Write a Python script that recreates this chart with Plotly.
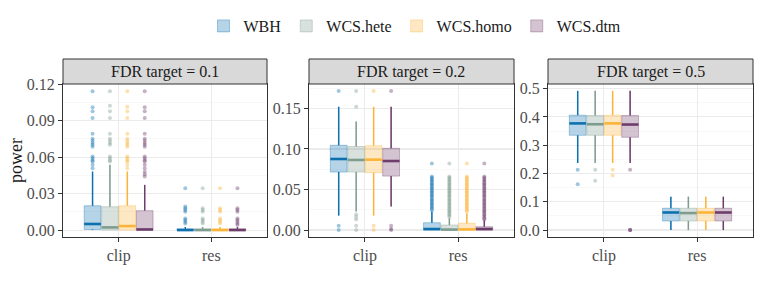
import plotly.graph_objects as go

# ---------------- data ----------------
methods = ["WBH", "WCS.hete", "WCS.homo", "WCS.dtm"]
colors = ["#0E70AE", "#7F9D8F", "#FBB43A", "#6F3D6B"]
categories = ["clip", "res"]
targets = ["FDR target = 0.1", "FDR target = 0.2", "FDR target = 0.5"]

# box statistics: [panel][category][method]
q1 = [
    [[0.0005, 0.0, 0.0, 0.0], [0.0, 0.0, 0.0, 0.0]],
    [[0.0715, 0.0715, 0.0707, 0.0665], [0.0, 0.0, 0.0, 0.0]],
    [[0.335, 0.335, 0.335, 0.328], [0.032, 0.032, 0.032, 0.032]],
]
median = [
    [[0.0050, 0.0022, 0.0033, 0.0005], [0.0, 0.0, 0.0, 0.0]],
    [[0.0876, 0.0864, 0.0868, 0.0851], [0.0012, 0.0005, 0.0008, 0.0012]],
    [[0.377, 0.374, 0.377, 0.373], [0.062, 0.060, 0.062, 0.062]],
]
q3 = [
    [[0.0200, 0.0192, 0.0200, 0.0160], [0.0010, 0.0010, 0.0010, 0.0010]],
    [[0.1045, 0.1030, 0.1040, 0.1008], [0.0090, 0.0062, 0.0083, 0.0041]],
    [[0.406, 0.405, 0.406, 0.405], [0.077, 0.077, 0.077, 0.077]],
]
lowerfence = [
    [[0.0, 0.0, 0.0, 0.0], [0.0, 0.0, 0.0, 0.0]],
    [[0.0178, 0.0227, 0.0178, 0.0290], [0.0, 0.0, 0.0, 0.0]],
    [[0.237, 0.237, 0.237, 0.237], [0.0, 0.0, 0.0, 0.0]],
]
upperfence = [
    [[0.0482, 0.0537, 0.0482, 0.0372], [0.0025, 0.0025, 0.0025, 0.0025]],
    [[0.152, 0.134, 0.152, 0.152], [0.0227, 0.0145, 0.0207, 0.0120]],
    [[0.492, 0.492, 0.492, 0.492], [0.118, 0.118, 0.118, 0.118]],
]

# outliers: [panel][category][method]
outliers = [
    [
        [
            [0.1142, 0.1010, 0.0977, 0.0922, 0.0793, 0.0751, 0.0735, 0.0716, 0.0702, 0.0685,
             0.0606, 0.0592, 0.0575, 0.0564, 0.0537, 0.0509],
            [0.1142, 0.1024, 0.0977, 0.0922, 0.0793, 0.0751, 0.0735, 0.0716, 0.0702,
             0.0606, 0.0592, 0.0575, 0.0564],
            [0.1142, 0.1015, 0.0977, 0.0922, 0.0793, 0.0751, 0.0735, 0.0716, 0.0702, 0.0685,
             0.0606, 0.0592, 0.0575, 0.0564, 0.0537, 0.0509],
            [0.1142, 0.1010, 0.0977, 0.0922, 0.0793, 0.0751, 0.0735, 0.0716, 0.0702, 0.0685,
             0.0606, 0.0592, 0.0575, 0.0564, 0.0537, 0.0509, 0.0480, 0.0460, 0.0440],
        ],
        [
            [0.0344, 0.0193, 0.0179, 0.0165, 0.0151, 0.0096, 0.0083, 0.0069, 0.0055],
            [0.0344, 0.0179, 0.0165, 0.0151, 0.0096, 0.0083, 0.0069, 0.0055],
            [0.0344, 0.0179, 0.0165, 0.0151, 0.0096, 0.0083, 0.0069, 0.0055],
            [0.0344, 0.0179, 0.0165, 0.0151, 0.0096, 0.0083, 0.0069, 0.0055, 0.0041],
        ],
    ],
    [
        [
            [0.1715, 0.0054, 0.0],
            [0.1715, 0.152, 0.0190, 0.0160, 0.0130, 0.0054, 0.0],
            [0.1715, 0.0054, 0.0],
            [0.1715, 0.0054, 0.0012, 0.0],
        ],
        [
            [0.0822, 0.0661, 0.0645, 0.0628, 0.0612, 0.0595, 0.0578, 0.0562, 0.0545, 0.0528,
             0.0512, 0.0495, 0.0478, 0.0462, 0.0445, 0.0428, 0.0412, 0.0395, 0.0378, 0.0362,
             0.0345, 0.0328, 0.0312, 0.0295, 0.0278, 0.0262, 0.0245],
            [0.0822, 0.0661, 0.0645, 0.0628, 0.0612, 0.0595, 0.0578, 0.0562, 0.0545, 0.0528,
             0.0512, 0.0495, 0.0478, 0.0462, 0.0445, 0.0428, 0.0412, 0.0395, 0.0378, 0.0362,
             0.0345, 0.0328, 0.0312, 0.0295, 0.0278, 0.0262, 0.0245, 0.0228, 0.0212, 0.0195,
             0.0178, 0.0162],
            [0.0822, 0.0661, 0.0645, 0.0628, 0.0612, 0.0595, 0.0578, 0.0562, 0.0545, 0.0528,
             0.0512, 0.0495, 0.0478, 0.0462, 0.0445, 0.0428, 0.0412, 0.0395, 0.0378, 0.0362,
             0.0345, 0.0328, 0.0312, 0.0295, 0.0278, 0.0262, 0.0245, 0.0228],
            [0.0822, 0.0661, 0.0645, 0.0628, 0.0612, 0.0595, 0.0578, 0.0562, 0.0545, 0.0528,
             0.0512, 0.0495, 0.0478, 0.0462, 0.0445, 0.0428, 0.0412, 0.0395, 0.0378, 0.0362,
             0.0345, 0.0328, 0.0312, 0.0295, 0.0278, 0.0262, 0.0245, 0.0228, 0.0212, 0.0195,
             0.0178, 0.0162, 0.0145, 0.0130],
        ],
    ],
    [
        [
            [0.213, 0.162],
            [0.213, 0.174],
            [0.213, 0.193],
            [0.213, 0.0, 0.0, 0.0],
        ],
        [[], [], [], []],
    ],
]

yranges = [(-0.0057, 0.1202), (-0.0086, 0.1801), (-0.0246, 0.5163)]
ydticks = [0.03, 0.05, 0.1]
ytickformats = [".2f", ".2f", ".1f"]

# ---------------- layout constants ----------------
W, H = 761, 286
panel_px = [(63, 267), (309, 514), (548, 753)]
top_px, bot_px, strip_top_px = 84, 237, 59
legend_cx, legend_cy = 415, 26
ylab_x, ylab_y = 16, 161
offsets = [-0.28125, -0.09375, 0.09375, 0.28125]
box_w = 0.18
FONT = "Liberation Serif, Times New Roman, serif"


def rgba(hexc, a):
    h = hexc.lstrip("#")
    r, g, b = int(h[0:2], 16), int(h[2:4], 16), int(h[4:6], 16)
    return f"rgba({r},{g},{b},{a})"


fig = go.Figure()

for p in range(3):
    xa = "x" if p == 0 else f"x{p+1}"
    ya = "y" if p == 0 else f"y{p+1}"
    for ci, cat in enumerate(categories):
        for mi, m in enumerate(methods):
            pos = ci + 1 + offsets[mi]
            col = colors[mi]
            fig.add_trace(go.Box(
                x=[pos], q1=[q1[p][ci][mi]], median=[median[p][ci][mi]], q3=[q3[p][ci][mi]],
                lowerfence=[lowerfence[p][ci][mi]], upperfence=[upperfence[p][ci][mi]],
                width=box_w, whiskerwidth=0, boxpoints=False,
                fillcolor=rgba(col, 0.3), line=dict(color=rgba(col, 0.35), width=1),
                name=m, legendgroup=m, showlegend=(p == 0 and ci == 0),
                xaxis=xa, yaxis=ya, hoverinfo="skip",
            ))
            # opaque whiskers
            fig.add_trace(go.Scatter(
                x=[pos, pos, None, pos, pos],
                y=[q3[p][ci][mi], upperfence[p][ci][mi], None, lowerfence[p][ci][mi], q1[p][ci][mi]],
                mode="lines", line=dict(color=col, width=1.5),
                showlegend=False, xaxis=xa, yaxis=ya, hoverinfo="skip",
            ))
            # thick opaque median
            fig.add_trace(go.Scatter(
                x=[pos - box_w / 2, pos + box_w / 2],
                y=[median[p][ci][mi], median[p][ci][mi]],
                mode="lines", line=dict(color=col, width=2.6),
                showlegend=False, xaxis=xa, yaxis=ya, hoverinfo="skip",
            ))
            # outliers
            ol = outliers[p][ci][mi]
            if ol:
                fig.add_trace(go.Scatter(
                    x=[pos] * len(ol), y=ol, mode="markers",
                    marker=dict(color=rgba(col, 0.4), size=4, line=dict(width=0)),
                    showlegend=False, xaxis=xa, yaxis=ya, hoverinfo="skip",
                ))

axis_common = dict(
    showline=True, mirror=True, linecolor="#333333", linewidth=1,
    ticks="outside", ticklen=4, tickcolor="#333333", tickwidth=1,
    tickfont=dict(family=FONT, size=16, color="#4D4D4D"),
    zeroline=False, automargin=False,
)

layout = dict(
    width=W, height=H,
    margin=dict(l=0, r=0, t=0, b=0, pad=0, autoexpand=False),
    paper_bgcolor="white", plot_bgcolor="white",
    font=dict(family=FONT, size=16, color="#1A1A1A"),
    legend=dict(
        orientation="h", x=legend_cx / W, xanchor="center", y=1 - legend_cy / H, yanchor="middle",
        font=dict(family=FONT, size=16, color="#1A1A1A"),
        itemwidth=30, traceorder="normal",
    ),
    shapes=[], annotations=[],
)

for p in range(3):
    xk = "xaxis" if p == 0 else f"xaxis{p+1}"
    yk = "yaxis" if p == 0 else f"yaxis{p+1}"
    yanchor = "x" if p == 0 else f"x{p+1}"
    xanchor = "y" if p == 0 else f"y{p+1}"
    d0, d1 = panel_px[p][0] / W, panel_px[p][1] / W
    layout[xk] = dict(
        domain=[d0, d1], anchor=xanchor, range=[0.4, 2.6],
        tickmode="array", tickvals=[1, 2], ticktext=categories,
        showgrid=True, gridcolor="#EBEBEB", gridwidth=1.1, **axis_common,
    )
    layout[yk] = dict(
        domain=[1 - bot_px / H, 1 - top_px / H], anchor=yanchor, range=list(yranges[p]),
        tickmode="linear", tick0=0, dtick=ydticks[p], tickformat=ytickformats[p],
        showgrid=True, gridcolor="#EBEBEB", gridwidth=1.1,
        minor=dict(dtick=ydticks[p] / 2, tick0=0, showgrid=True, gridcolor="#F3F3F3",
                   gridwidth=0.6, ticks=""),
        **axis_common,
    )
    layout["shapes"].append(dict(
        type="rect", xref="paper", yref="paper",
        x0=d0, x1=d1, y0=1 - top_px / H, y1=1 - strip_top_px / H,
        fillcolor="#D9D9D9", line=dict(color="#333333", width=1), layer="above",
    ))
    layout["annotations"].append(dict(
        text=targets[p], xref="paper", yref="paper",
        x=(d0 + d1) / 2, y=1 - (top_px + strip_top_px) / 2 / H,
        xanchor="center", yanchor="middle", showarrow=False,
        font=dict(family=FONT, size=16, color="#1A1A1A"),
    ))

layout["annotations"].append(dict(
    text="power", xref="paper", yref="paper", x=ylab_x / W, y=1 - ylab_y / H,
    xanchor="center", yanchor="middle", textangle=-90, showarrow=False,
    font=dict(family=FONT, size=18, color="#1A1A1A"),
))

fig.update_layout(**layout)
# remove the default 8px page margin so the figure fills the window exactly
fig.write_html(
    "out.html",
    config={"displayModeBar": False, "staticPlot": True},
    post_script="document.body.style.margin='0';document.body.style.overflow='hidden';",
)
